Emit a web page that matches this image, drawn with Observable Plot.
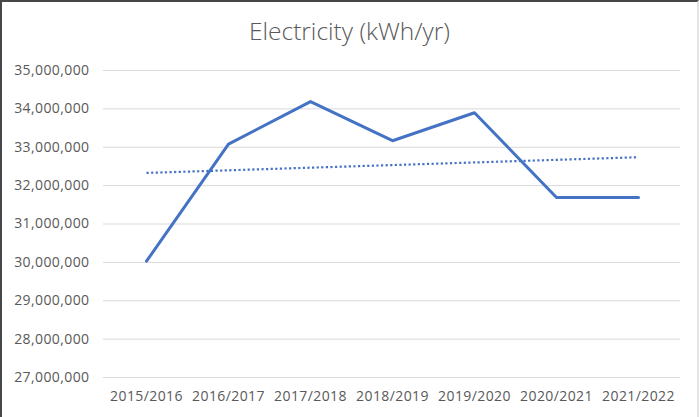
<!DOCTYPE html>
<html>
<head>
<meta charset="utf-8">
<script src="https://cdn.jsdelivr.net/npm/d3@7"></script>
<script src="https://cdn.jsdelivr.net/npm/@observablehq/plot@0.6"></script>
<style>
  html, body { margin: 0; padding: 0; background: #ffffff; }
  #frame {
    position: relative;
    width: 699px; height: 417px;
    box-sizing: border-box;
    border-top: 2px solid #474747;
    border-left: 2px solid #474747;
    border-right: 2px solid #e3e3e3;
    background: #ffffff;
    overflow: hidden;
  }
  #title {
    height: 50px;
    box-sizing: border-box;
    padding-top: 17px;
    text-align: center;
    font-family: "Open Sans", sans-serif;
    font-weight: 300;
    font-size: 24.5px;
    line-height: 1;
    color: #595959;
  }
  #chart svg { display: block; }
  #chart svg text { letter-spacing: 0.4px; }
</style>
</head>
<body>
<div id="frame">
  <div id="title">Electricity (kWh/yr)</div>
  <div id="chart"></div>
</div>
<script>
const categories = ["2015/2016", "2016/2017", "2017/2018", "2018/2019", "2019/2020", "2020/2021", "2021/2022"];
const electricity = [30030000, 33080000, 34190000, 33170000, 33900000, 31690000, 31690000];
const yTicks = [27000000, 28000000, 29000000, 30000000, 31000000, 32000000, 33000000, 34000000, 35000000];

const data = categories.map((c, i) => ({cat: c, v: electricity[i]}));

// Linear trendline (least squares over category index), as Excel does
const idx = electricity.map((_, i) => i);
const mx = d3.mean(idx), my = d3.mean(electricity);
const slope = d3.sum(idx, i => (i - mx) * (electricity[i] - my)) / d3.sum(idx, i => (i - mx) ** 2);
const intercept = my - slope * mx;
const trend = [0, categories.length - 1].map(i => ({cat: categories[i], v: intercept + slope * i}));

const blue = "#4472C4";

const chart = Plot.plot({
  width: 695,
  height: 365,
  marginTop: 18,
  marginBottom: 40,
  marginLeft: 101,
  marginRight: 17,
  style: {fontFamily: "Open Sans, sans-serif", fontSize: "14px", color: "#595959", background: "#ffffff"},
  x: {type: "point", domain: categories, padding: 0.5, label: null},
  y: {domain: [27000000, 35000000], label: null},
  marks: [
    Plot.gridY(yTicks, {stroke: "#d9d9d9", strokeOpacity: 1, strokeWidth: 1}),
    Plot.axisY(yTicks, {tickSize: 0, tickPadding: 14, tickFormat: d3.format(","), fill: "#595959", fontSize: 14, label: null}),
    Plot.axisX(categories, {tickSize: 0, tickPadding: 14, fill: "#595959", fontSize: 14, label: null}),
    Plot.line(trend, {x: "cat", y: "v", stroke: blue, strokeWidth: 2.2, strokeDasharray: "2.2,2.4", strokeLinecap: "butt"}),
    Plot.line(data, {x: "cat", y: "v", stroke: blue, strokeWidth: 3, strokeLinejoin: "round", strokeLinecap: "round"})
  ]
});
document.getElementById("chart").appendChild(chart);
</script>
</body>
</html>
